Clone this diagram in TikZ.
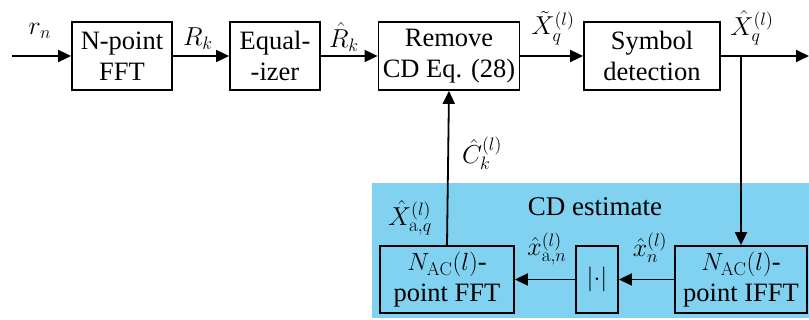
\documentclass[tikz,border=0pt]{standalone}
\usepackage{fontspec}
\newfontfamily\tms{Liberation Serif}
\usetikzlibrary{arrows.meta}
\tikzset{
  blk/.style={draw=black, line width=1.8pt, align=center, inner sep=0pt,
     font=\tms\fontsize{26.5}{31}\selectfont},
  conn/.style={line width=1.8pt, -{Triangle[length=13pt,width=12pt]}},
  lbl/.style={font=\fontsize{22}{24}\selectfont, inner sep=0pt, scale=1.25, transform shape}
}
\begin{document}
\begin{tikzpicture}[x=1pt,y=1pt]
\useasboundingbox (0,0) rectangle (809,320);
\fill[fill={rgb,255:red,128;green,210;blue,240}] (372,2) rectangle (809,137);
\node[blk, minimum width=100, minimum height=68] (fft) at (122,264) {N-point\\FFT};
\node[blk, minimum width=90, minimum height=68] (eq) at (275,264) {Equal-\\-izer};
\node[blk, minimum width=141, minimum height=68] (rcd) at (449,264) {Remove\\CD Eq. (28)};
\node[blk, minimum width=136, minimum height=68] (sym) at (652,264) {Symbol\\detection};
\node[blk, minimum width=134, minimum height=67] (afft) at (447,40.5) {$N_{\mathrm{AC}}(l)$-\\point FFT};
\node[blk, minimum width=42, minimum height=67] (abs) at (597,40.5) {$|{\cdot}|$};
\node[blk, minimum width=132, minimum height=67] (ifft) at (741,40.5) {$N_{\mathrm{AC}}(l)$-\\point IFFT};
\node[font=\tms\fontsize{27}{29}\selectfont, inner sep=0pt] (cdest) at (595,113) {CD estimate};
\coordinate (in) at (12,264);
\coordinate (out) at (809,264);
\coordinate (j) at (ifft.north |- sym.east);
\draw[conn] (in) -- (fft);
\draw[conn] (fft) -- (eq);
\draw[conn] (eq) -- (rcd);
\draw[conn] (rcd) -- (sym);
\draw[conn] (sym) -- (out);
\draw[conn] (j) -- (ifft.north);
\draw[conn] (ifft) -- (abs);
\draw[conn] (abs) -- (afft);
\draw[conn] (afft.north) -- (rcd.south);
\node[lbl] (l1) at (40,289) {$r_n$};
\node[lbl] (l2) at (198,281) {$R_k$};
\node[lbl] (l3) at (344,283) {$\hat{R}_k$};
\node[lbl] (l4) at (553,292) {$\tilde{X}_q^{(l)}$};
\node[lbl] (l5) at (752,292) {$\hat{X}_q^{(l)}$};
\node[lbl] (l6) at (482,167) {$\hat{C}_k^{(l)}$};
\node[lbl] (l7) at (410,102) {$\hat{X}_{\mathrm{a},q}^{(l)}$};
\node[lbl] (l8) at (547,71) {$\hat{x}_{\mathrm{a},n}^{(l)}$};
\node[lbl] (l9) at (650,72) {$\hat{x}_n^{(l)}$};
\end{tikzpicture}
\end{document}
